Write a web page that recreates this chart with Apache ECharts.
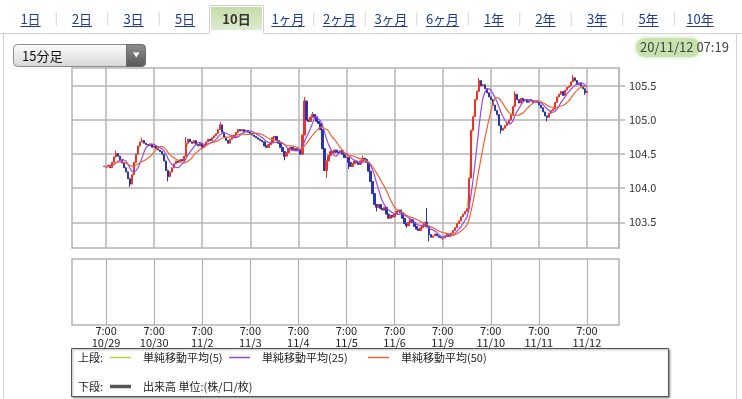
<!DOCTYPE html>
<html><head><meta charset="utf-8">
<script src="https://cdn.jsdelivr.net/npm/echarts@6/dist/echarts.min.js"></script>
<style>html,body{margin:0;padding:0;background:#fff}#c{width:742px;height:399px}</style>
</head><body><div id="c"></div>
<script>
// ---- data (hourly closes, session day starts 7:00) ----
const dayLabels = ['10/28','10/29','10/30','11/2','11/3','11/4','11/5','11/6','11/9','11/10','11/11','11/12'];
const closePre = [104.32];
const close1029 = [104.31,104.34,104.30,104.38,104.46,104.51,104.47,104.42,104.37,104.30,104.24,104.14,104.06,104.20,104.38,104.50,104.62,104.68,104.70,104.66,104.64,104.62,104.64,104.60];
const close1030 = [104.62,104.58,104.56,104.54,104.50,104.40,104.26,104.17,104.24,104.30,104.36,104.40,104.38,104.42,104.40,104.47,104.66,104.72,104.68,104.66,104.70,104.64,104.62,104.66];
const close1102 = [104.60,104.63,104.68,104.72,104.70,104.74,104.77,104.80,104.86,104.93,104.82,104.75,104.70,104.66,104.72,104.78,104.76,104.82,104.86,104.84,104.86,104.83,104.85,104.82];
const close1103 = [104.80,104.78,104.76,104.74,104.72,104.70,104.68,104.62,104.60,104.64,104.67,104.74,104.76,104.70,104.66,104.60,104.54,104.47,104.52,104.58,104.60,104.57,104.58,104.55];
const close1104 = [104.56,104.50,104.78,105.28,105.00,104.98,105.04,105.08,105.05,104.98,104.95,104.86,104.58,104.26,104.40,104.48,104.54,104.52,104.56,104.53,104.52,104.55,104.50,104.45];
const close1105 = [104.45,104.38,104.32,104.36,104.40,104.38,104.35,104.40,104.44,104.42,104.38,104.25,104.10,103.92,103.76,103.72,103.76,103.70,103.68,103.72,103.62,103.56,103.60,103.58];
const close1106 = [103.62,103.66,103.68,103.64,103.56,103.48,103.45,103.50,103.54,103.50,103.44,103.40,103.38,103.42,103.46,103.50,103.44,103.32,103.28,103.30,103.33,103.30,103.28,103.27];
const close1109 = [103.27,103.30,103.33,103.30,103.34,103.38,103.42,103.48,103.52,103.58,103.62,103.66,103.70,104.15,104.85,105.05,105.30,105.42,105.58,105.50,105.52,105.46,105.40,105.34];
const close1110 = [105.30,105.22,105.14,105.08,104.92,104.85,104.88,104.92,104.95,105.00,105.08,105.20,105.38,105.30,105.25,105.32,105.28,105.30,105.26,105.30,105.28,105.26,105.28,105.26];
const close1111 = [105.22,105.18,105.12,105.06,105.04,105.10,105.14,105.16,105.26,105.34,105.38,105.42,105.36,105.44,105.48,105.50,105.56,105.62,105.58,105.52,105.54,105.50,105.46,105.40];
const close1112 = [105.42];
// notable wicks: [hours since 10/29 7:00, price]
const wickHighs = [[5,104.55],[18,104.74],[40,104.75],[57,104.97],[99,105.34],[103,105.12],[128,104.48],[160,103.71],[186,105.62],[204,105.42],[233,105.66]];
const wickLows  = [[12,104.02],[31,104.10],[89,104.41],[110,104.15],[121,104.28],[135,103.66],[150,103.42],[161,103.22],[168,103.24],[197,104.80],[220,104.98],[239,105.37]];
const yTicks = [103.5, 104.0, 104.5, 105.0, 105.5];
const yMin = 103.123, yMax = 105.764;
const maPeriods = [5, 25, 50];          // in 15-minute bars
const maNames = ['単純移動平均(5)', '単純移動平均(25)', '単純移動平均(50)'];
const volumeName = '出来高 単位:(株/口/枚)';
const tabLabels = ['1日','2日','3日','5日','10日','1ヶ月','2ヶ月','3ヶ月','6ヶ月','1年','2年','3年','5年','10年'];
const activeTab = '10日';
const intervalName = '15分足';
const stampDate = '20/11/12', stampTime = '07:19';
const leadHours = 17, trailHours = 16;  // empty hours before first / after last session start

// ---- build ----
const closes = [].concat(closePre, close1029, close1030, close1102, close1103, close1104, close1105, close1106, close1109, close1110, close1111, close1112);
const firstH = -closePre.length;
const cats = [];
for (let h = -leadHours; h <= 240 + trailHours; h++) {
  const d = Math.floor(h / 24) + 1;
  const hr = (7 + ((h % 24) + 24) % 24) % 24;
  cats.push(dayLabels[d] + ' ' + hr + ':00');
}
const padL = firstH + leadHours;
const padR = cats.length - padL - closes.length;
const pad = n => Array.from({length: n}, () => '-');
const hiMap = new Map(wickHighs), loMap = new Map(wickLows);
const ohlc = closes.map((c, i) => {
  const h = i + firstH;
  const o = i ? closes[i-1] : c;
  const lo = Math.min(o, c, loMap.has(h) ? loMap.get(h) : Infinity);
  const hi = Math.max(o, c, hiMap.has(h) ? hiMap.get(h) : -Infinity);
  return [o, c, lo, hi];
});
const candles = [].concat(pad(padL).map(() => ['-','-','-','-']), ohlc, pad(padR).map(() => ['-','-','-','-']));
function sma(win) {
  return closes.map((_, i) => { const s = closes.slice(Math.max(0, i - win + 1), i + 1); return +(s.reduce((a, b) => a + b, 0) / s.length).toFixed(3); });
}
const maColors = ['#b9d23c', '#9b45e8', '#f0632e'];
const maSeries = maPeriods.map((p, k) => ({
  name: maNames[k], type: 'line', xAxisIndex: 0, yAxisIndex: 0, symbol: 'none', silent: true,
  data: [].concat(pad(padL), sma(Math.ceil(p * 15 / 60)), pad(padR)),
  lineStyle: {color: maColors[k], width: 1.2}, itemStyle: {color: maColors[k]}, z: k === 0 ? 2 : 4
}));
const isDayStart = (i, v) => /\s7:00$/.test(v);

// ---- decorations ----
const mctx = document.createElement('canvas').getContext('2d');
const tw = (t, f) => { mctx.font = f; return mctx.measureText(t).width; };
const FONT = '"Noto Sans CJK JP","Noto Sans",sans-serif';
const g = [];
const grey = '#d0d0d0';
g.push({type:'line', shape:{x1:0,y1:33.5,x2:209,y2:33.5}, style:{stroke:grey,lineWidth:1}});
g.push({type:'line', shape:{x1:264,y1:33.5,x2:742,y2:33.5}, style:{stroke:grey,lineWidth:1}});
g.push({type:'line', shape:{x1:3.5,y1:33,x2:3.5,y2:399}, style:{stroke:grey,lineWidth:1}});
g.push({type:'line', shape:{x1:736.5,y1:33,x2:736.5,y2:399}, style:{stroke:grey,lineWidth:1}});
g.push({type:'polyline', shape:{points:[[209.5,33.5],[209.5,5.5],[263.5,5.5],[263.5,33.5]]}, style:{stroke:grey,fill:null,lineWidth:1}});
g.push({type:'rect', shape:{x:211,y:7,width:51,height:23}, style:{fill:new echarts.graphic.LinearGradient(0,0,0,1,[{offset:0,color:'#c4dca8'},{offset:1,color:'#deebd0'}])}});
tabLabels.forEach((t, i) => {
  const cx = 30.5 + i * 51.5;
  const active = t === activeTab;
  const f = (active ? 'bold ' : '') + '13px ' + FONT;
  const col = active ? '#333' : '#1f3c8e';
  g.push({type:'text', style:{text:t, x:cx, y:19, font:f, fill:col, textAlign:'center', textVerticalAlign:'middle', align:'center', verticalAlign:'middle'}});
  if (!active) {
    const w = tw(t, f);
    g.push({type:'line', shape:{x1:cx - w/2, y1:26.5, x2:cx + w/2, y2:26.5}, style:{stroke:col, lineWidth:1}});
  }
  const nx = 30.5 + (i + 0.5) * 51.5;
  if (i < tabLabels.length - 1 && t !== activeTab && tabLabels[i+1] !== activeTab)
    g.push({type:'line', shape:{x1:nx, y1:12, x2:nx, y2:26}, style:{stroke:'#d6d6d6', lineWidth:1}});
});
// dropdown
g.push({type:'rect', shape:{x:13.5,y:44.5,width:132,height:22,r:4}, style:{fill:new echarts.graphic.LinearGradient(0,0,0,1,[{offset:0,color:'#fdfdfd'},{offset:1,color:'#d6d6d6'}]), stroke:'#8c8c8c', lineWidth:1}});
g.push({type:'rect', shape:{x:126.5,y:44.5,width:19,height:22,r:[0,4,4,0]}, style:{fill:new echarts.graphic.LinearGradient(0,0,0,1,[{offset:0,color:'#8f8f8f'},{offset:1,color:'#575757'}]), stroke:'#6a6a6a', lineWidth:1}});
g.push({type:'polygon', shape:{points:[[133,52.5],[139.5,52.5],[136.25,57.5]]}, style:{fill:'#fff'}});
g.push({type:'text', style:{text:intervalName, x:22, y:56, font:'13px '+FONT, fill:'#111', textAlign:'left', textVerticalAlign:'middle', align:'left', verticalAlign:'middle'}});
// timestamp
g.push({type:'rect', shape:{x:636,y:38,width:64,height:19,r:9}, style:{fill:'#c6e2ae', shadowBlur:4, shadowColor:'#c6e2ae'}});
g.push({type:'text', style:{text:stampDate + ' ' + stampTime, x:640, y:47.5, font:'13px '+FONT, fill:'#444', textAlign:'left', textVerticalAlign:'middle', align:'left', verticalAlign:'middle'}});
// legend box
g.push({type:'rect', z:0, shape:{x:71.5,y:348.5,width:597,height:48}, style:{fill:'#fff', stroke:'#555', lineWidth:1, shadowBlur:2, shadowOffsetX:1, shadowOffsetY:1, shadowColor:'rgba(0,0,0,0.35)'}});
g.push({type:'text', z:1, style:{text:'上段:', x:78, y:358, font:'11px '+FONT, fill:'#222', textAlign:'left', textVerticalAlign:'middle', align:'left', verticalAlign:'middle'}});
g.push({type:'text', z:1, style:{text:'下段:', x:78, y:387, font:'11px '+FONT, fill:'#222', textAlign:'left', textVerticalAlign:'middle', align:'left', verticalAlign:'middle'}});

const legendBase = {orient:'horizontal', icon:'rect', itemWidth:21, itemHeight:1.5, selectedMode:false, padding:0,
  textStyle:{fontSize:11, color:'#222', fontFamily:FONT, padding:[0,0,0,7]}};
const legLefts = [110, 229, 368];

const chart = echarts.init(document.getElementById('c'), null, {renderer:'canvas'});
chart.setOption({
  animation: false,
  backgroundColor: '#fff',
  textStyle: {fontFamily: FONT},
  grid: [
    {left:72, top:68, width:547, height:180, show:true, borderColor:'#b4b4b4', borderWidth:1.5, backgroundColor:'transparent'},
    {left:72, top:259, width:547, height:66, show:true, borderColor:'#b4b4b4', borderWidth:1.5, backgroundColor:'transparent'}
  ],
  xAxis: [
    {gridIndex:0, type:'category', data:cats, boundaryGap:false, axisLine:{show:false}, axisTick:{show:false}, axisLabel:{show:false},
      splitLine:{show:true, interval:isDayStart, lineStyle:{color:'#b4b4b4', width:1.5}}},
    {gridIndex:1, type:'category', data:cats, boundaryGap:false, axisLine:{show:false}, axisTick:{show:false},
      axisLabel:{show:true, interval:isDayStart, margin:0, fontSize:11, lineHeight:12, color:'#222', fontFamily:FONT,
        formatter: v => { const p = v.split(' '); return p[1] + '\n' + p[0]; }},
      splitLine:{show:true, interval:isDayStart, lineStyle:{color:'#b4b4b4', width:1.2}}}
  ],
  yAxis: [
    {gridIndex:0, type:'value', position:'right', min:yMin, max:yMax,
      axisLine:{show:true, lineStyle:{color:'#b4b4b4', width:1.5}},
      axisTick:{show:true, length:6, customValues:yTicks, lineStyle:{color:'#b4b4b4', width:1.5}},
      axisLabel:{show:true, customValues:yTicks, margin:10, fontSize:11, color:'#333', fontFamily:FONT, formatter: v => Number(v).toFixed(1)},
      splitLine:{show:true, lineStyle:{color:'#b4b4b4', width:1.5}}},
    {gridIndex:1, type:'value', show:false, min:0, max:1, splitLine:{show:false}}
  ],
  legend: [
    Object.assign({}, legendBase, {left:legLefts[0], top:352, data:[maNames[0]]}),
    Object.assign({}, legendBase, {left:legLefts[1], top:352, data:[maNames[1]]}),
    Object.assign({}, legendBase, {left:legLefts[2], top:352, data:[maNames[2]]}),
    Object.assign({}, legendBase, {left:legLefts[0], top:381, itemHeight:3.5, data:[volumeName]})
  ],
  graphic: {elements: g},
  series: [
    maSeries[0],
    {name:intervalName, type:'candlestick', xAxisIndex:0, yAxisIndex:0, data:candles, barWidth:1.8, silent:true, z:3,
      itemStyle:{color:'#e8332e', color0:'#2a33b0', borderColor:'#e8332e', borderColor0:'#2a33b0', borderWidth:1}},
    maSeries[1],
    maSeries[2],
    {name:volumeName, type:'bar', xAxisIndex:1, yAxisIndex:1, data:[], itemStyle:{color:'#555'}}
  ]
});
</script></body></html>
